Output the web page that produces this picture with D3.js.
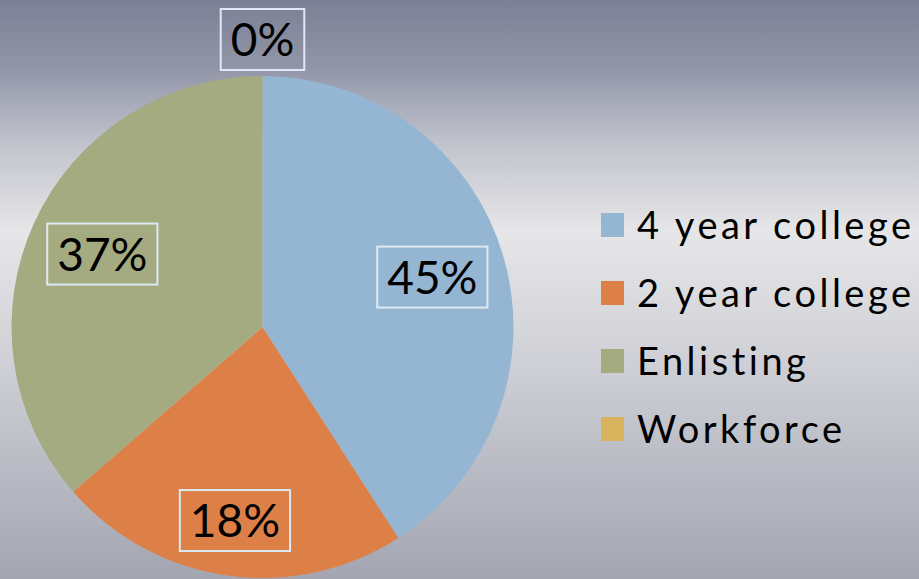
<!DOCTYPE html>
<html>
<head>
<meta charset="utf-8">
<script src="https://cdn.jsdelivr.net/npm/d3@7"></script>
<style>
  html, body { margin: 0; padding: 0; overflow: hidden; }
  svg { display: block; }
</style>
</head>
<body>
<div id="chart"></div>
<script>
const width = 919;
const height = 579;

// ──── Data ────
const categories = ["4 year college", "2 year college", "Enlisting", "Workforce"];
const sliceValues = [40.9, 22.7, 36.4, 0];        // slice sizes as drawn
const dataLabels = ["45%", "18%", "37%", "0%"];   // labels as printed on the slide
const colors = ["#94b6d2", "#dd8047", "#a5ab81", "#d8b25c"];

const radius = 251;
const cx = 262.5, cy = 327;

const svg = d3.select("#chart")
    .append("svg")
    .attr("width", width)
    .attr("height", height)
    .style("font-family", "Lato, 'DejaVu Sans', sans-serif");

// ──── Background gradient ────
const defs = svg.append("defs");
const grad = defs.append("linearGradient")
    .attr("id", "bg")
    .attr("x1", 0).attr("y1", 0).attr("x2", 0).attr("y2", 1);
[[0, "#7b8095"], [0.12, "#9296a8"], [0.25, "#c2c4cd"], [0.4, "#e6e6e8"],
 [0.6, "#d2d3d8"], [0.8, "#babcc5"], [1, "#a3a6b2"]]
    .forEach(([o, c]) => grad.append("stop").attr("offset", o).attr("stop-color", c));

svg.append("rect")
    .attr("width", width)
    .attr("height", height)
    .attr("fill", "url(#bg)");

// ──── Pie ────
const pie = d3.pie().sort(null).value(d => d.value);
const arcs = pie(categories.map((c, i) => ({ name: c, value: sliceValues[i], label: dataLabels[i], color: colors[i] })));

const arc = d3.arc().innerRadius(0).outerRadius(radius);

const g = svg.append("g").attr("transform", `translate(${cx},${cy})`);

g.selectAll("path")
    .data(arcs.filter(d => d.value > 0))
    .join("path")
    .attr("d", arc)
    .attr("fill", d => d.data.color);

// ──── Data labels (inside end, outside for empty slice) ────
const pad = 12;
const boxH = 61;

function labelPos(d, w) {
    const a = (d.startAngle + d.endAngle) / 2;
    const ux = Math.sin(a), uy = -Math.cos(a);
    if (d.endAngle - d.startAngle < 1e-6) {
        const dist = radius + 6 + boxH / 2;
        return [ux * dist, uy * dist];
    }
    // push the box out until its far corner reaches radius - pad
    let dist = 0;
    for (let t = 0; t < radius; t += 0.5) {
        const x = ux * t + Math.sign(ux || 1) * w / 2;
        const y = uy * t + Math.sign(uy || 1) * boxH / 2;
        if (Math.hypot(x, y) > radius - pad) break;
        dist = t;
    }
    return [ux * dist, uy * dist];
}

const labels = g.selectAll("g.label")
    .data(arcs)
    .join("g")
    .attr("class", "label");

labels.each(function(d) {
    const sel = d3.select(this);
    const text = sel.append("text")
        .attr("text-anchor", "middle")
        .attr("dy", "0.36em")
        .attr("font-size", 46)
        .attr("fill", "#000")
        .text(d.data.label);
    const w = text.node().getComputedTextLength() + 20;
    const [x, y] = labelPos(d, w);
    sel.attr("transform", `translate(${x},${y})`);
    sel.insert("rect", "text")
        .attr("x", -w / 2)
        .attr("y", -boxH / 2)
        .attr("width", w)
        .attr("height", boxH)
        .attr("fill", "none")
        .attr("stroke", "#dde9f4")
        .attr("stroke-width", 2);
});

// ──── Legend ────
const legendY = d3.scalePoint()
    .domain(categories)
    .range([225, 429]);

const legend = svg.append("g")
    .selectAll("g")
    .data(categories)
    .join("g")
    .attr("transform", d => `translate(601,${legendY(d)})`);

legend.append("rect")
    .attr("x", 0)
    .attr("y", -12)
    .attr("width", 23)
    .attr("height", 24)
    .attr("fill", (d, i) => colors[i]);

legend.append("text")
    .attr("x", 36)
    .attr("dy", "0.36em")
    .attr("font-size", 38)
    .attr("letter-spacing", 3.5)
    .attr("fill", "#000")
    .text(d => d);
</script>
</body>
</html>
